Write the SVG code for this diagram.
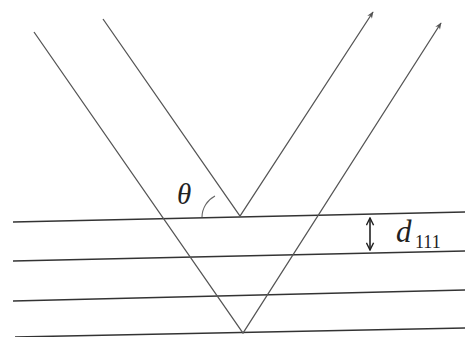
<svg xmlns="http://www.w3.org/2000/svg" width="465" height="337" viewBox="0 0 465 337">
<defs>
<style>
.plane{stroke:#333;stroke-width:1.5;fill:none}
.ray{stroke:#555;stroke-width:1.3;fill:none}
.lbl{font-family:"Liberation Serif","DejaVu Serif",serif;font-style:italic;fill:#222}
.sub{font-family:"Liberation Serif","DejaVu Serif",serif;fill:#222}
</style>
<marker id="tip" viewBox="0 0 10 10" refX="9" refY="5" markerWidth="7" markerHeight="7" orient="auto" markerUnits="userSpaceOnUse">
<path d="M0,1 L10,5 L0,9 L3,5 Z" fill="#555"/>
</marker>
<marker id="dtip" viewBox="0 0 10 10" refX="9" refY="5" markerWidth="9" markerHeight="9" orient="auto-start-reverse" markerUnits="userSpaceOnUse">
<path d="M1,1 L9,5 L1,9" fill="none" stroke="#222" stroke-width="1.6"/>
</marker>
</defs>
<rect width="465" height="337" fill="#fff"/>
<g id="planes">
<line class="plane" x1="13" y1="222" x2="465" y2="212"/>
<line class="plane" x1="13" y1="261" x2="465" y2="251"/>
<line class="plane" x1="13" y1="301" x2="465" y2="290"/>
<line class="plane" x1="15" y1="337" x2="465" y2="328"/>
</g>
<g id="connectors">
<polyline class="ray" points="103,19 240,216 373,12" marker-end="url(#tip)"/>
<polyline class="ray" points="34,32 243,333 441,23" marker-end="url(#tip)"/>
<path d="M202,217 A24,24 0 0 1 215,196" fill="none" stroke="#666" stroke-width="1.1"/>
<line x1="370" y1="218" x2="370" y2="250" stroke="#222" stroke-width="1.6" marker-start="url(#dtip)" marker-end="url(#dtip)"/>
</g>
<g id="theta">
<text class="lbl" x="177" y="204" font-size="29">θ</text>
</g>
<g id="d111">
<text class="lbl" x="396" y="242" font-size="31">d</text>
<text class="sub" x="415" y="248" font-size="18">111</text>
</g>
</svg>
